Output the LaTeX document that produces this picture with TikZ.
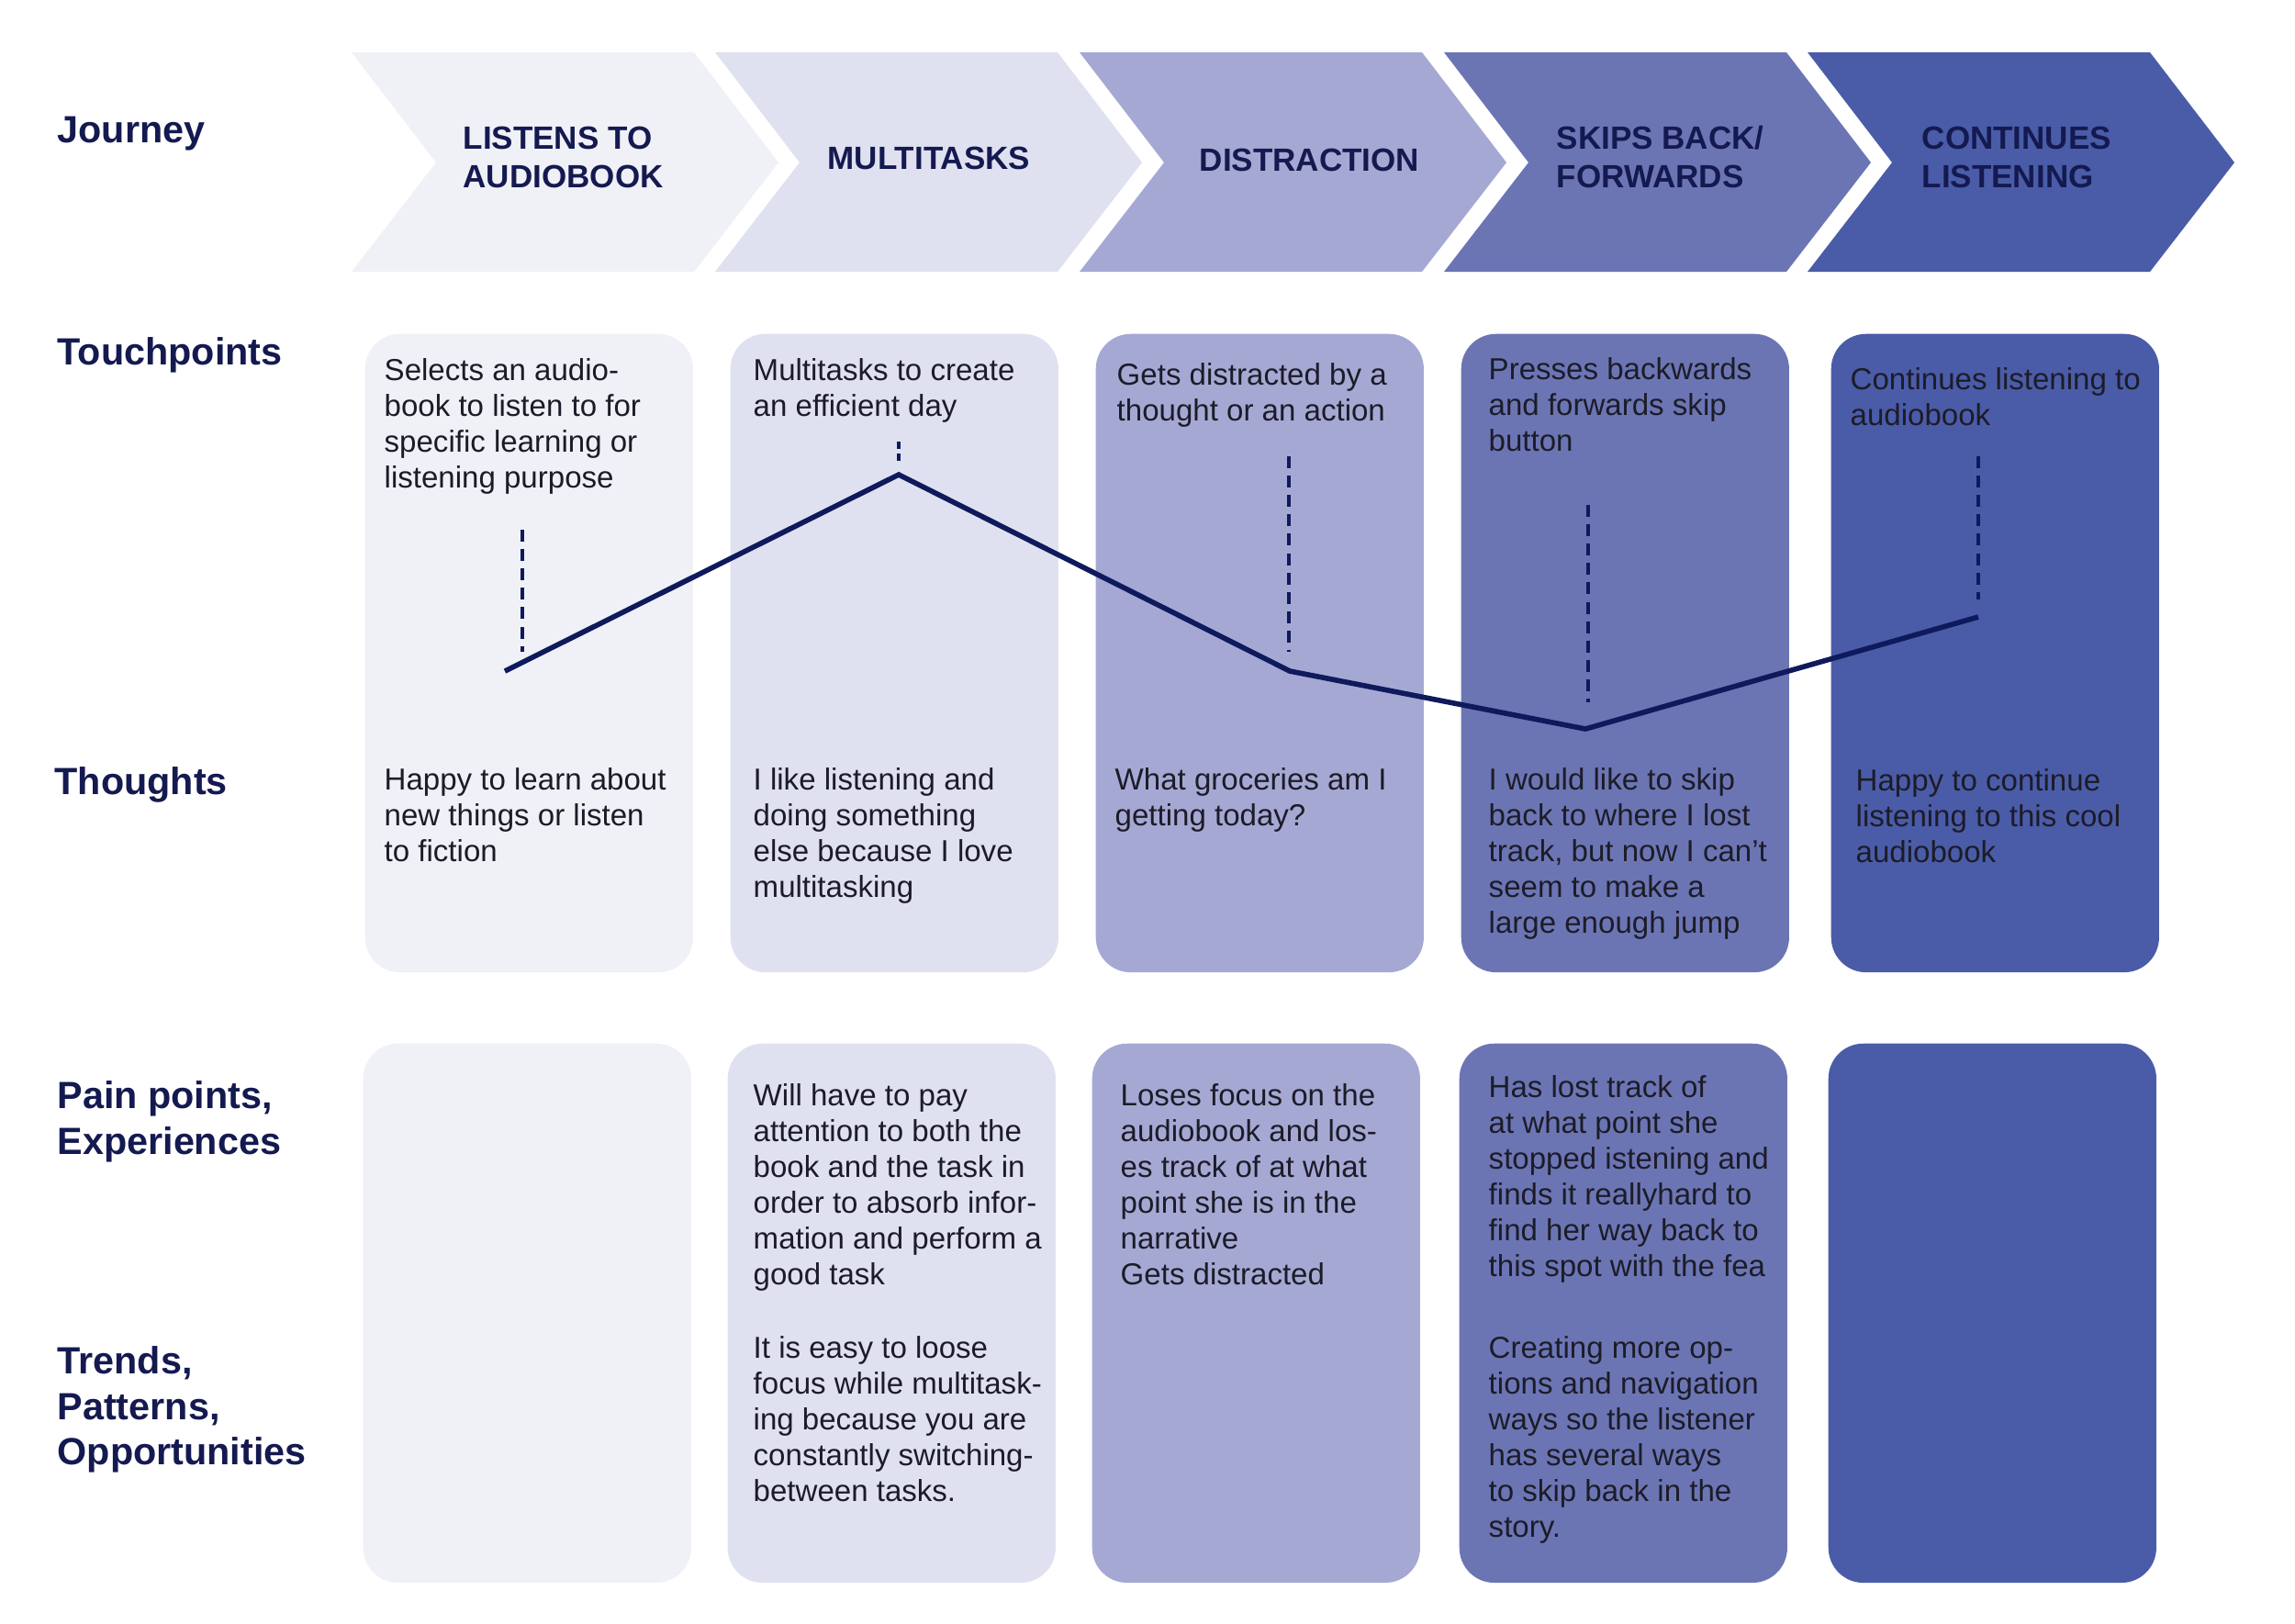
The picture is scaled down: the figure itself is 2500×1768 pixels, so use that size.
\documentclass[tikz,border=0pt]{standalone}
\usepackage{fontspec}
\setmainfont{Liberation Sans}
\definecolor{cA}{HTML}{F0F0F7}
\definecolor{cB}{HTML}{E0E1F0}
\definecolor{cC}{HTML}{A6A8D4}
\definecolor{cD}{HTML}{6C75B4}
\definecolor{cE}{HTML}{4A5CA8}
\definecolor{navy}{HTML}{141A50}
\definecolor{bodyc}{HTML}{1C1C28}
\definecolor{linec}{HTML}{0E1A5C}
\begin{document}
\begin{tikzpicture}[x=0.01cm,y=-0.01cm,
 head/.style={anchor=north west, inner sep=0pt, align=left, text=navy, font=\fontsize{11.75}{14.05}\selectfont\bfseries, yshift=9.835pt},
 chev/.style={anchor=north west, inner sep=0pt, align=left, text=navy, font=\fontsize{9.96}{11.75}\selectfont\bfseries, yshift=8.225pt},
 body/.style={anchor=north west, inner sep=0pt, align=left, text=bodyc, font=\fontsize{9.4}{11.1}\selectfont, yshift=7.77pt},
 cardtop/.style={anchor=north west, inner sep=0pt, rounded corners=0.38cm, minimum width=3.57cm, minimum height=6.95cm},
 cardbot/.style={anchor=north west, inner sep=0pt, rounded corners=0.38cm, minimum width=3.57cm, minimum height=5.87cm},
 trend/.style={draw=linec, line width=1.6pt, line join=miter},
 drop/.style={draw=linec, line width=1.3pt, dash pattern=on 3.7pt off 2.3pt}
]
\fill[white] (0,0) rectangle (2500,1768);
\path[use as bounding box] (0,0) rectangle (2500,1768);

% chevrons
\foreach \L/\c in {383/cA,779/cB,1176/cC,1573/cD,1969/cE}{
  \fill[\c] (\L,57) -- ({\L+373},57) -- ({\L+465},177) -- ({\L+373},296) -- (\L,296) -- ({\L+92},177) -- cycle;
}

% cards row 1
\node[cardtop, fill=cA] (t1) at (397,363) {};
\node[cardtop, fill=cB] (t2) at (795,363) {};
\node[cardtop, fill=cC] (t3) at (1193,363) {};
\node[cardtop, fill=cD] (t4) at (1591,363) {};
\node[cardtop, fill=cE] (t5) at (1994,363) {};
% cards row 2
\node[cardbot, fill=cA] (b1) at (395,1136) {};
\node[cardbot, fill=cB] (b2) at (792,1136) {};
\node[cardbot, fill=cC] (b3) at (1189,1136) {};
\node[cardbot, fill=cD] (b4) at (1589,1136) {};
\node[cardbot, fill=cE] (b5) at (1991,1136) {};

% emotion line
\coordinate (p1) at (550,731);
\coordinate (p2) at (979,517);
\coordinate (p3) at (1405,731);
\coordinate (p4) at (1727,794);
\coordinate (p5) at (2155,672);
\draw[trend] (p1) -- (p2) -- (p3) -- (p4) -- (p5);

\coordinate (d1a) at (569,577);  \coordinate (d1b) at (569,710);
\coordinate (d2a) at (979,481);  \coordinate (d2b) at (979,502);
\coordinate (d3a) at (1404,497); \coordinate (d3b) at (1404,710);
\coordinate (d4a) at (1730,550); \coordinate (d4b) at (1730,765);
\coordinate (d5a) at (2155,497); \coordinate (d5b) at (2155,653);
\draw[drop] (d1a) -- (d1b);
\draw[drop, dash pattern=on 2.3pt off 1.4pt] (d2a) -- (d2b);
\draw[drop] (d3a) -- (d3b);
\draw[drop] (d4a) -- (d4b);
\draw[drop] (d5a) -- (d5b);

% row headings
\node[head] (hJ) at (62,155) {\strut Journey};
\node[head] (hT) at (62,397) {\strut Touchpoints};
\node[head] (hTh) at (59,865) {\strut Thoughts};
\node[head] (hP) at (62,1207) {\strut Pain points,\\Experiences};
\node[head] (hO) at (62,1496) {\strut Trends,\\Patterns,\\Opportunities};

% chevron titles
\node[chev] (j1) at (504,162) {\strut LISTENS TO\\AUDIOBOOK};
\node[chev] (j2) at (901,184) {\strut MULTITASKS};
\node[chev] (j3) at (1306,186) {\strut DISTRACTION};
\node[chev] (j4) at (1695,162) {\strut SKIPS BACK/\\FORWARDS};
\node[chev] (j5) at (2093,162) {\strut CONTINUES\\LISTENING};

% touchpoints
\node[body] (tp1) at (418,414) {\strut Selects an audio-\\book to listen to for\\specific learning or\\listening purpose};
\node[body] (tp2) at (820,414) {\strut Multitasks to create\\an efficient day};
\node[body] (tp3) at (1216,419) {\strut Gets distracted by a\\thought or an action};
\node[body] (tp4) at (1621,413) {\strut Presses backwards\\and forwards skip\\button};
\node[body] (tp5) at (2015,424) {\strut Continues listening to\\audiobook};

% thoughts
\node[body] (th1) at (418,860) {\strut Happy to learn about\\new things or listen\\to fiction};
\node[body] (th2) at (820,860) {\strut I like listening and\\doing something\\else because I love\\multitasking};
\node[body] (th3) at (1214,860) {\strut What groceries am I\\getting today?};
\node[body] (th4) at (1621,860) {\strut I would like to skip\\back to where I lost\\track, but now I can’t\\seem to make a\\large enough jump};
\node[body] (th5) at (2021,861) {\strut Happy to continue\\listening to this cool\\audiobook};

% pain points
\node[body] (pp2) at (820,1204) {\strut Will have to pay\\attention to both the\\book and the task in\\order to absorb infor-\\mation and perform a\\good task};
\node[body] (pp3) at (1220,1204) {\strut Loses focus on the\\audiobook and los-\\es track of at what\\point she is in the\\narrative\\Gets distracted};
\node[body] (pp4) at (1621,1195) {\strut Has lost track of\\at what point she\\stopped istening and\\finds it reallyhard to\\find her way back to\\this spot with the fea};

% opportunities
\node[body] (op2) at (820,1479) {\strut It is easy to loose\\focus while multitask-\\ing because you are\\constantly switching-\\between tasks.};
\node[body] (op4) at (1621,1479) {\strut Creating more op-\\tions and navigation\\ways so the listener\\has several ways\\to skip back in the\\story.};
\end{tikzpicture}
\end{document}
